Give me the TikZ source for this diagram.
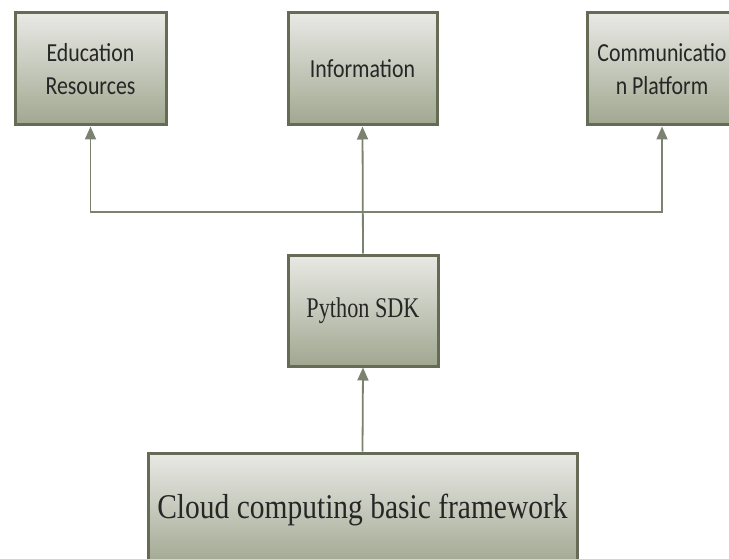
\documentclass[tikz,border=0pt]{standalone}
\usepackage{fontspec}
\usepackage{tikz}
\usetikzlibrary{arrows.meta}
\newfontfamily\boxsans[FakeStretch=0.84]{Carlito}
\newfontfamily\boxserif[FakeStretch=0.78]{Liberation Serif}
\newfontfamily\wideserif[FakeStretch=0.85]{Liberation Serif}
\definecolor{boxedge}{HTML}{656B55}
\definecolor{boxtop}{HTML}{E9E9E5}
\definecolor{boxbottom}{HTML}{A0A790}
\definecolor{linkcol}{HTML}{7C8270}

\begin{document}
\begin{tikzpicture}[x=1pt, y=-1pt,
    box/.style = {draw=boxedge, line width=3pt, top color=boxtop, bottom color=boxbottom,
                  inner sep=0pt, align=center, text=black!85},
    link/.style = {draw=linkcol, line width=1.8pt, -{Triangle[length=13pt,width=11pt]}}]
    \useasboundingbox (0,0) rectangle (729,559);
    % top row
    \node[box, minimum width=151pt, minimum height=112pt, font=\boxsans\fontsize{26}{33}\selectfont] (edu) at (90.5,69) {Education\\Resources};
    \node[box, minimum width=149pt, minimum height=112pt, font=\boxsans\fontsize{26}{33}\selectfont] (info) at (362.5,69) {Information};
    \node[box, minimum width=149pt, minimum height=112pt, font=\boxsans\fontsize{26}{33}\selectfont] (comm) at (662,69) {Communicatio\\n Platform};
    % middle and bottom
    \node[box, minimum width=150pt, minimum height=111pt, font=\boxserif\fontsize{28.5}{34}\selectfont] (sdk) at (363,310.5) {Python SDK};
    \node[box, minimum width=429pt, minimum height=114pt, font=\wideserif\fontsize{34.7}{42}\selectfont] (cloud) at (362.5,510) {Cloud computing basic framework};
    \coordinate (split) at (363,212);
    % connectors
    \draw[link] (cloud.north) -- (sdk.south);
    \draw[link] (sdk.north) -- (info.south);
    \draw[link] (split) -| (edu.south);
    \draw[link] (split) -| (comm.south);
\end{tikzpicture}
\end{document}
